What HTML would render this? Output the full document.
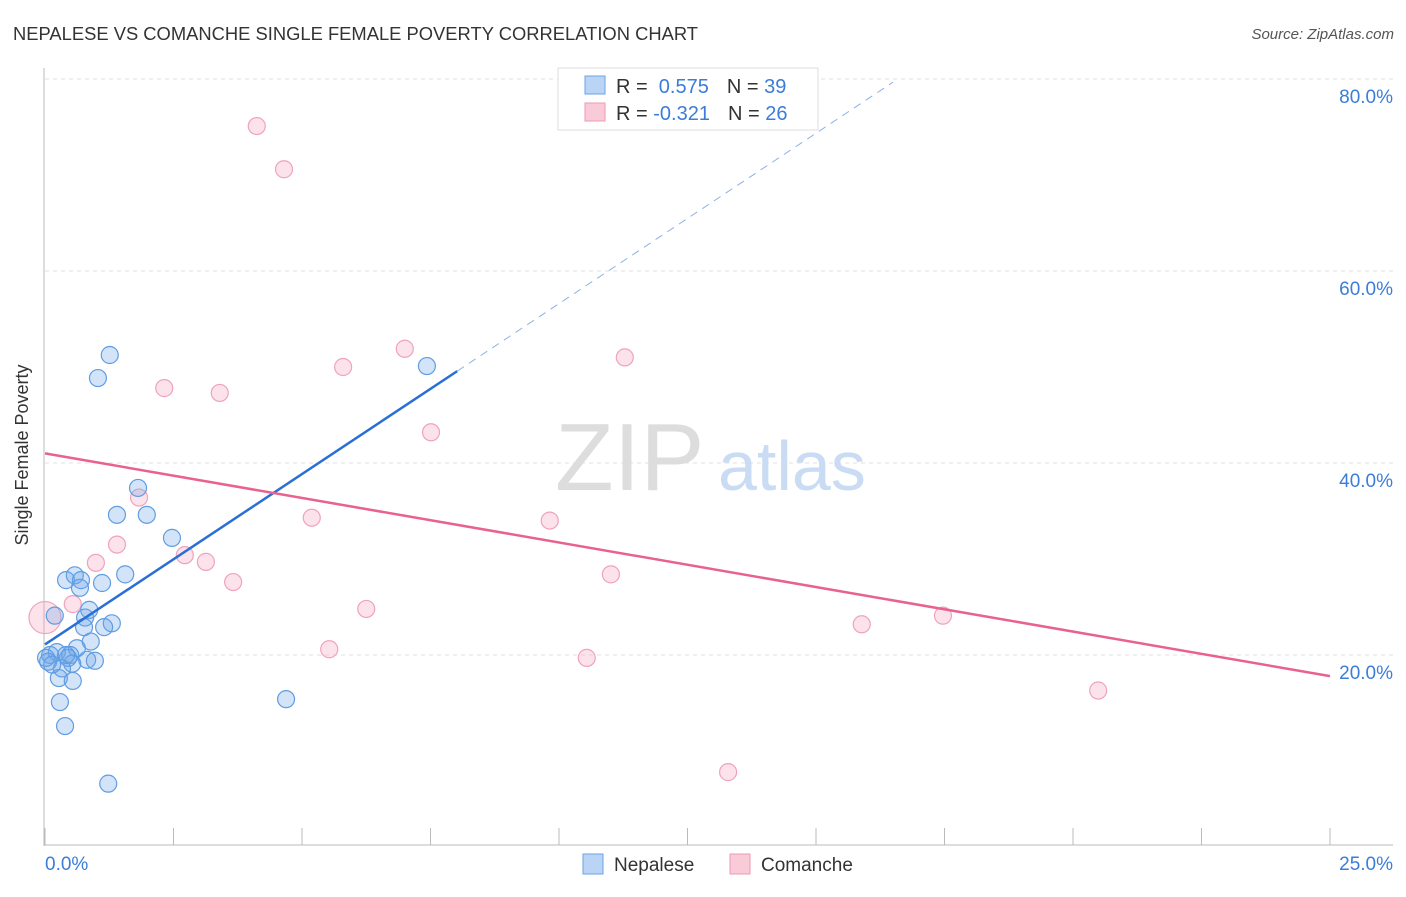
<!DOCTYPE html>
<html><head><meta charset="utf-8"><style>
body{margin:0;background:#fff;font-family:"Liberation Sans",sans-serif;}
svg text{font-family:"Liberation Sans",sans-serif;}
</style></head><body>
<svg width="1406" height="892" xmlns="http://www.w3.org/2000/svg">
<text x="13" y="40" font-size="18" fill="#333" textLength="685" lengthAdjust="spacingAndGlyphs">NEPALESE VS COMANCHE SINGLE FEMALE POVERTY CORRELATION CHART</text>
<text x="1394" y="39" font-size="15" fill="#555" text-anchor="end" font-style="italic">Source: ZipAtlas.com</text>
<g id="grid"></g>
<text x="555" y="490" font-size="96" fill="#ddd" font-family="Liberation Serif">ZIP</text>
<text x="718" y="490" font-size="70" fill="#c9dcf3">atlas</text>
<text x="28" y="455" font-size="18" fill="#333" text-anchor="middle" transform="rotate(-90 28 455)">Single Female Poverty</text>
<g id="marks"></g>
<g>
<rect x="558" y="68" width="260" height="62" fill="#fff" stroke="#ddd"/>
<rect x="585" y="76" width="20" height="18" fill="#b9d4f5" stroke="#6aa2e6"/>
<rect x="585" y="103" width="20" height="18" fill="#f9cbd9" stroke="#ee9ab3"/>
<text x="616" y="93" font-size="20" fill="#333">R = <tspan fill="#3b7dd8">&#160;0.575</tspan><tspan dx="18">N = </tspan><tspan fill="#3b7dd8">39</tspan></text>
<text x="616" y="120" font-size="20" fill="#333">R = <tspan fill="#3b7dd8">-0.321</tspan><tspan dx="18">N = </tspan><tspan fill="#3b7dd8">26</tspan></text>
</g>
<g>
<rect x="583" y="854" width="20" height="20" fill="#b9d4f5" stroke="#6aa2e6"/>
<text x="614" y="871" font-size="19" fill="#333">Nepalese</text>
<rect x="730" y="854" width="20" height="20" fill="#f9cbd9" stroke="#ee9ab3"/>
<text x="761" y="871" font-size="19" fill="#333">Comanche</text>
</g>
</svg>
<script>
const blueX=[1.26,1.03,1.81,1.40,1.98,2.47,1.56,0.41,0.58,0.70,1.11,0.68,0.19,0.86,0.78,1.30,1.15,0.76,0.89,0.62,0.10,0.23,0.49,0.45,0.82,0.97,0.06,0.53,0.33,0.27,0.54,0.29,0.39,1.23,4.69,7.43,0.02,0.14,0.41];
const blueY=[51.25,48.85,37.4,34.6,34.6,32.2,28.4,27.8,28.3,27.8,27.5,27.0,24.1,24.7,23.9,23.3,22.9,22.9,21.4,20.7,20.0,20.3,20.0,19.7,19.5,19.4,19.3,19.1,18.6,17.6,17.3,15.1,12.6,6.6,15.4,50.1,19.7,19.0,20.0];
const pinkX=[4.12,4.65,7.00,5.80,11.28,2.32,3.40,7.51,1.83,5.19,9.82,1.40,2.72,0.99,3.13,3.66,11.01,0.54,6.25,15.89,17.47,5.53,10.54,20.49,13.29,0];
const pinkY=[75.1,70.6,51.9,50.0,51.0,47.8,47.3,43.2,36.4,34.3,34.0,31.5,30.4,29.6,29.7,27.6,28.4,25.3,24.8,23.2,24.1,20.6,19.7,16.3,7.8,23.9];
const yTicks=[20,40,60,80];
const xTickVals=[0,2.5,5,7.5,10,12.5,15,17.5,20,22.5,25];
const blueLine=[21.1,3.55];
const pinkLine=[41.0,-0.928];
const xs=v=>45+v*51.4, ys=v=>847-v*9.6;
const NS="http://www.w3.org/2000/svg";
function mk(tag,attrs,parent){const e=document.createElementNS(NS,tag);for(const k in attrs)e.setAttribute(k,attrs[k]);parent.appendChild(e);return e;}
const grid=document.getElementById('grid'), marks=document.getElementById('marks');
let e;
e=mk('line',{x1:44,y1:68,x2:44,y2:846,stroke:'#bbb'},grid);


e=mk('line',{x1:44,y1:845,x2:1393,y2:845,stroke:'#bbb'},grid);


yTicks.forEach(t=>{
 e=mk('line',{x1:45,y1:ys(t),x2:1393,y2:ys(t),stroke:'#e2e2e2','stroke-dasharray':'4,4'},grid);
 
 
 e=mk('text',{x:1393,y:ys(t)+24,'font-size':19,fill:'#3b7dd8','text-anchor':'end'},grid);
 e.textContent=t.toFixed(1)+'%';
 
 
});
xTickVals.forEach(t=>{
 e=mk('line',{x1:xs(t),y1:828,x2:xs(t),y2:845,stroke:'#bbb'},grid);
 
 
});
e=mk('text',{x:45,y:870,'font-size':19,fill:'#3b7dd8'},grid);e.textContent='0.0%';


e=mk('text',{x:1393,y:870,'font-size':19,fill:'#3b7dd8','text-anchor':'end'},grid);e.textContent='25.0%';


pinkX.forEach((x,i)=>{
 e=mk('circle',{cx:xs(x),cy:ys(pinkY[i]),r:i===pinkX.length-1?16:8.5,fill:'rgba(244,160,188,0.3)',stroke:'#f0a3ba','stroke-width':1.2},marks);
 
 
});
blueX.forEach((x,i)=>{
 e=mk('circle',{cx:xs(x),cy:ys(blueY[i]),r:8.5,fill:'rgba(110,165,232,0.3)',stroke:'#5f9de3','stroke-width':1.2},marks);
 
 
});
const bl=x=>blueLine[0]+blueLine[1]*x, pl=x=>pinkLine[0]+pinkLine[1]*x;
e=mk('line',{x1:xs(0),y1:ys(bl(0)),x2:xs(8.02),y2:ys(bl(8.02)),stroke:'#2a6fd6','stroke-width':2.5},marks);


e=mk('line',{x1:xs(8.02),y1:ys(bl(8.02)),x2:xs(16.5),y2:ys(bl(16.5)),stroke:'#8ab2e6','stroke-width':1,'stroke-dasharray':'8,6'},marks);


e=mk('line',{x1:xs(0),y1:ys(pl(0)),x2:xs(25),y2:ys(pl(25)),stroke:'#e8618f','stroke-width':2.5},marks);


</script>
</body></html>
